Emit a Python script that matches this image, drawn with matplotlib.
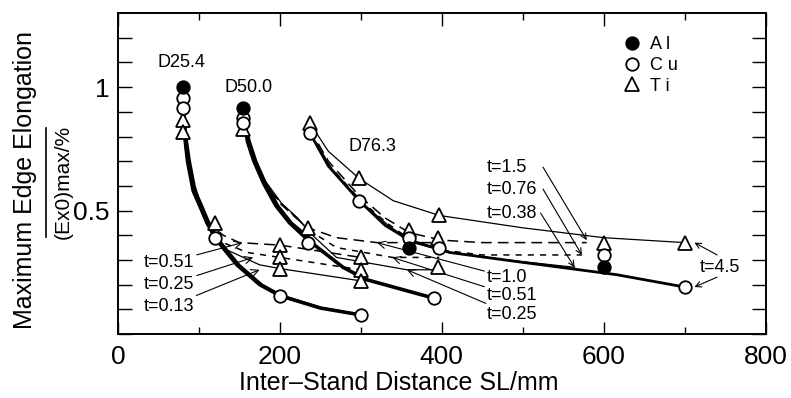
import numpy as np
import matplotlib.pyplot as plt
from matplotlib.lines import Line2D

plt.rcParams['font.family'] = ['Liberation Sans', 'DejaVu Sans']

# ---- markers (material) ----
al_x = [80, 155, 360, 600]
al_y = [1.0, 0.915, 0.35, 0.27]
cu_x = [80, 80, 120, 200, 300, 155, 155, 235, 390, 237, 298, 360, 397, 600, 700]
cu_y = [0.955, 0.915, 0.39, 0.155, 0.077, 0.875, 0.855, 0.37, 0.145, 0.815, 0.54, 0.39, 0.35, 0.32, 0.19]
ti_x = [80, 80, 120, 200, 200, 200, 300, 300, 300, 155, 235, 237, 298, 360, 397, 395, 395, 600, 700]
ti_y = [0.866, 0.82, 0.45, 0.36, 0.31, 0.265, 0.31, 0.26, 0.215, 0.83, 0.43, 0.855, 0.63, 0.42, 0.48, 0.39, 0.27, 0.37, 0.37]

# ---- D25.4 curves ----
d25_al_x = [80, 83, 86, 93, 101, 110, 120, 132, 147, 175, 200, 250, 300]
d25_al_y = [1.0, 0.79, 0.70, 0.58, 0.52, 0.45, 0.39, 0.34, 0.28, 0.20, 0.155, 0.105, 0.077]
d25_cu_x = [80, 85, 89, 96, 104, 113, 123, 135, 150, 178, 203, 252, 300]
d25_cu_y = [0.955, 0.79, 0.70, 0.58, 0.52, 0.45, 0.39, 0.34, 0.28, 0.20, 0.155, 0.105, 0.077]
d25_t051_x = [80, 86, 95, 105, 115, 130, 150, 200, 300]
d25_t051_y = [0.866, 0.72, 0.60, 0.50, 0.44, 0.40, 0.37, 0.36, 0.31]
d25_t025_x = [80, 86, 95, 105, 115, 130, 160, 200, 300]
d25_t025_y = [0.82, 0.70, 0.59, 0.50, 0.43, 0.37, 0.33, 0.31, 0.26]
d25_t013_x = [80, 88, 97, 107, 118, 135, 175, 200, 300]
d25_t013_y = [0.82, 0.68, 0.57, 0.48, 0.41, 0.34, 0.28, 0.265, 0.215]

# ---- D50.0 curves ----
d50_al_x = [155, 160, 168, 180, 195, 212, 235, 278, 307, 390]
d50_al_y = [0.915, 0.78, 0.70, 0.61, 0.52, 0.45, 0.38, 0.27, 0.22, 0.145]
d50_cu_x = [155, 163, 171, 183, 198, 215, 237]
d50_cu_y = [0.875, 0.78, 0.70, 0.61, 0.52, 0.45, 0.39]
d50_t10_x = [155, 165, 180, 200, 220, 235, 270, 320, 397]
d50_t10_y = [0.83, 0.72, 0.62, 0.53, 0.47, 0.43, 0.39, 0.37, 0.37]
d50_t051_x = [155, 166, 181, 201, 221, 236, 270, 339, 397]
d50_t051_y = [0.83, 0.72, 0.62, 0.53, 0.47, 0.42, 0.35, 0.31, 0.31]
d50_t025_x = [155, 167, 182, 202, 222, 237, 270, 357, 397]
d50_t025_y = [0.83, 0.72, 0.62, 0.53, 0.47, 0.41, 0.31, 0.26, 0.26]

# ---- D76.3 curves ----
d76_t45_x = [237, 260, 298, 340, 397, 500, 600, 700]
d76_t45_y = [0.855, 0.74, 0.63, 0.54, 0.48, 0.43, 0.39, 0.37]
d76_cu_x = [237, 260, 298, 330, 360, 410, 500, 616, 700]
d76_cu_y = [0.815, 0.68, 0.54, 0.44, 0.38, 0.33, 0.29, 0.24, 0.19]
d76_t15_x = [237, 260, 298, 330, 360, 400, 450, 579]
d76_t15_y = [0.83, 0.70, 0.56, 0.47, 0.41, 0.38, 0.37, 0.37]
d76_t076_x = [237, 262, 300, 332, 362, 400, 450, 573]
d76_t076_y = [0.82, 0.68, 0.54, 0.45, 0.38, 0.34, 0.32, 0.32]
d76_t038_x = [237, 264, 302, 334, 364, 410, 480, 564]
d76_t038_y = [0.81, 0.67, 0.53, 0.44, 0.37, 0.33, 0.30, 0.27]

fig = plt.figure(figsize=(7.91, 3.98), dpi=100)
ax = fig.add_axes([0.149, 0.161, 0.819, 0.806])

LONG = (0, (7, 4))
SHORT = (0, (4, 4))

# bundles
ax.plot(d25_al_x, d25_al_y, color='black', lw=2.6)
ax.plot(d25_cu_x, d25_cu_y, color='black', lw=1.6)
ax.plot(d25_t051_x, d25_t051_y, color='black', lw=1.1, linestyle=LONG)
ax.plot(d25_t025_x, d25_t025_y, color='black', lw=1.1, linestyle=SHORT)
ax.plot(d25_t013_x, d25_t013_y, color='black', lw=0.9)

ax.plot(d50_al_x, d50_al_y, color='black', lw=2.6)
ax.plot(d50_cu_x, d50_cu_y, color='black', lw=1.6)
ax.plot(d50_t10_x, d50_t10_y, color='black', lw=1.1, linestyle=LONG)
ax.plot(d50_t051_x, d50_t051_y, color='black', lw=1.1, linestyle=SHORT)
ax.plot(d50_t025_x, d50_t025_y, color='black', lw=0.9)

ax.plot(d76_t45_x, d76_t45_y, color='black', lw=0.9)
ax.plot(d76_cu_x, d76_cu_y, color='black', lw=2.0)
ax.plot(d76_t15_x, d76_t15_y, color='black', lw=1.1, linestyle=LONG)
ax.plot(d76_t076_x, d76_t076_y, color='black', lw=1.1, linestyle=SHORT)
ax.plot(d76_t038_x, d76_t038_y, color='black', lw=0.9)

ms = 9
ax.plot(ti_x, ti_y, linestyle='none', marker='^', ms=ms + 1, mfc='white', mec='black', mew=1.3, zorder=5, label='T i')
ax.plot(cu_x, cu_y, linestyle='none', marker='o', ms=ms, mfc='white', mec='black', mew=1.3, zorder=6, label='C u')
ax.plot(al_x, al_y, linestyle='none', marker='o', ms=ms, mfc='black', mec='black', mew=1.3, zorder=7, label='A l')

# labels of the groups
tf = 13
ax.text(79, 1.1, 'D25.4', fontsize=tf, ha='center', va='center')
ax.text(161, 1.0, 'D50.0', fontsize=tf, ha='center', va='center')
ax.text(314, 0.76, 'D76.3', fontsize=tf, ha='center', va='center')

arw = dict(arrowstyle='->', lw=0.8, color='black', shrinkA=0, shrinkB=0)
ax.annotate('t=0.51', xy=(154, 0.37), xytext=(94, 0.29), fontsize=tf, ha='right', va='center', arrowprops=arw)
ax.annotate('t=0.25', xy=(167, 0.31), xytext=(94, 0.20), fontsize=tf, ha='right', va='center', arrowprops=arw)
ax.annotate('t=0.13', xy=(175, 0.26), xytext=(94, 0.11), fontsize=tf, ha='right', va='center', arrowprops=arw)

ax.annotate('t=1.0', xy=(320, 0.37), xytext=(456, 0.23), fontsize=tf, ha='left', va='center', arrowprops=arw)
ax.annotate('t=0.51', xy=(339, 0.31), xytext=(456, 0.155), fontsize=tf, ha='left', va='center', arrowprops=arw)
ax.annotate('t=0.25', xy=(357, 0.26), xytext=(456, 0.078), fontsize=tf, ha='left', va='center', arrowprops=arw)

ax.text(456, 0.676, 't=1.5', fontsize=tf, ha='left', va='center')
ax.text(456, 0.587, 't=0.76', fontsize=tf, ha='left', va='center')
ax.text(456, 0.490, 't=0.38', fontsize=tf, ha='left', va='center')
ax.annotate('', xy=(579, 0.38), xytext=(525, 0.676), arrowprops=arw)
ax.annotate('', xy=(573, 0.32), xytext=(525, 0.587), arrowprops=arw)
ax.annotate('', xy=(564, 0.27), xytext=(522, 0.490), arrowprops=arw)

ax.text(718, 0.27, 't=4.5', fontsize=tf, ha='left', va='center')
ax.annotate('', xy=(712, 0.37), xytext=(740, 0.32), arrowprops=arw)
ax.annotate('', xy=(712, 0.19), xytext=(740, 0.23), arrowprops=arw)

# axes
ax.set_xlim(0, 800)
ax.set_ylim(0, 1.3)
ax.set_xticks([0, 200, 400, 600, 800])
ax.set_xticks([100, 300, 500, 700], minor=True)
ax.set_yticks([0, 0.5, 1])
ax.set_yticklabels(['', '0.5', '1'])
ax.set_yticks(np.arange(0.1, 1.3, 0.1), minor=True)
ax.set_xticklabels(['0', '200', '400', '600', '800'])
ax.tick_params(axis='both', which='both', direction='in', top=True, right=True, labelsize=19, width=1.0)
ax.tick_params(axis='x', which='major', length=9, pad=8)
ax.tick_params(axis='x', which='minor', length=5)
ax.tick_params(axis='y', which='both', length=10, pad=6)
for sp in ax.spines.values():
    sp.set_linewidth(1.4)

ax.set_xlabel('Inter\u2013Stand Distance SL/mm', fontsize=18)
ax.xaxis.set_label_coords((399 - 118) / 648, -0.115)

fig.text(25 / 791, 1 - 180 / 398, 'Maximum Edge Elongation', rotation=90, fontsize=18,
         ha='center', va='center')
fig.text(63 / 791, 1 - 182 / 398, '(Ex0)max/%', rotation=90, fontsize=15,
         ha='center', va='center')
fig.add_artist(Line2D([46 / 791, 46 / 791], [1 - 237 / 398, 1 - 128 / 398], color='black', lw=1.2,
                      transform=fig.transFigure))

h, l = ax.get_legend_handles_labels()
leg = ax.legend(h[::-1], l[::-1], loc='upper left', bbox_to_anchor=(0.772, 0.95), frameon=False,
                handlelength=0.8, handletextpad=0.6, labelspacing=0.2, fontsize=13, borderaxespad=0)

fig.savefig('out.png', dpi=100)
